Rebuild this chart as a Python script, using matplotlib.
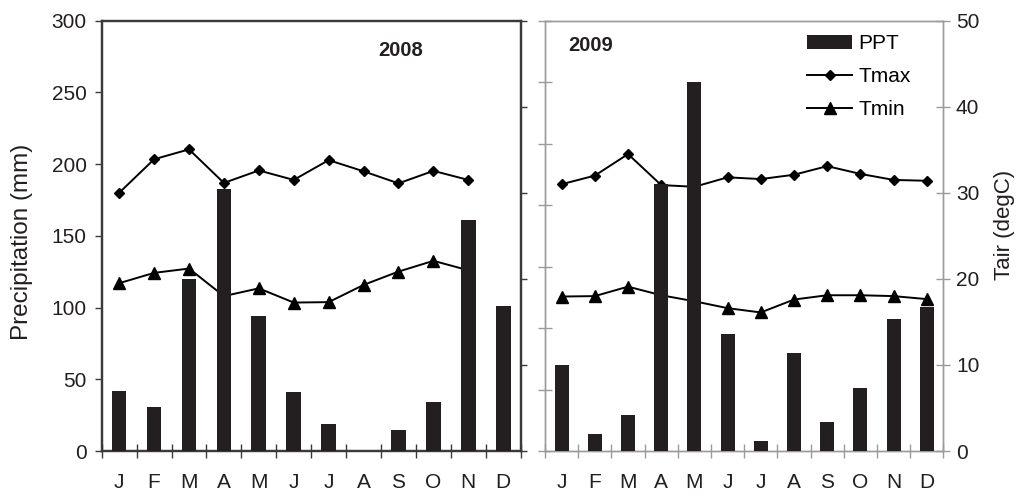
import numpy as np
import matplotlib
matplotlib.use("Agg")
import matplotlib.pyplot as plt

plt.rcParams['font.family'] = ['Liberation Sans', 'DejaVu Sans']

months = ['J', 'F', 'M', 'A', 'M', 'J', 'J', 'A', 'S', 'O', 'N', 'D']

# 2008 monthly precipitation (mm) and air temperature (degC)
ppt_2008 = [42, 31, 120, 183, 94, 41, 19, 0, 14.5, 34.5, 161, 101]
tmax_2008 = [30.0, 33.9, 35.05, 31.15, 32.6, 31.5, 33.8, 32.5, 31.1, 32.55, 31.5, np.nan]
tmin_2008 = [19.5, 20.7, 21.2, 18.0, 18.9, 17.25, 17.3, 19.3, 20.85, 22.1, 21.0, np.nan]

# 2009 monthly precipitation (mm) and air temperature (degC)
ppt_2009 = [70, 14, 29, 217, 300, 95, 8, 80, 23.5, 51.5, 107, 117.5]
tmax_2009 = [31.0, 32.0, 34.5, 30.9, 30.7, 31.8, 31.6, 32.1, 33.1, 32.2, 31.5, 31.4]
tmin_2009 = [17.95, 18.0, 19.1, 18.1, 17.4, 16.6, 16.1, 17.6, 18.1, 18.1, 18.0, 17.65]

TEXT = '#231f20'
BAR = '#231f20'
DARK = '#3a3a3a'
GREY = '#9a9a9a'
FS = 15

x = np.arange(12) + 0.5

fig = plt.figure(figsize=(10.18, 4.94), dpi=100)
ax1 = fig.add_axes([0.0999, 0.0870, 0.4116, 0.8711])
ax2 = fig.add_axes([0.5354, 0.0870, 0.3913, 0.8711])


def month_axis(ax, color, ticklen):
    ax.set_xlim(0, 12)
    ax.set_xticks(np.arange(13))
    ax.set_xticklabels([])
    ax.set_xticks(x, minor=True)
    ax.set_xticklabels(months, minor=True)
    ax.tick_params(axis='x', which='major', direction='inout', length=ticklen,
                   width=1, color=color)
    ax.tick_params(axis='x', which='minor', length=0, pad=16,
                   labelsize=FS, labelcolor=TEXT)


def panel(ax, ppt, tmax, tmin, pmax, spine_color, spine_w):
    tw = ax.twinx()
    tw.plot(x, tmax, color='black', lw=1.4, marker='D', ms=5.6, zorder=2)
    tw.plot(x, tmin, color='black', lw=1.4, marker='^', ms=8.5, zorder=2)
    tw.set_ylim(0, 50)
    ax.bar(x, ppt, width=0.42, color=BAR, zorder=3)
    ax.set_ylim(0, pmax)
    ax.set_zorder(tw.get_zorder() + 1)
    ax.patch.set_visible(False)
    for a in (ax, tw):
        for s in a.spines.values():
            s.set_color(spine_color)
            s.set_linewidth(spine_w)
    return tw


# ---- 2008 panel ----
tw1 = panel(ax1, ppt_2008, tmax_2008, tmin_2008, 300, DARK, 1.6)
month_axis(ax1, DARK, 9.5)
ax1.set_yticks(np.arange(0, 301, 50))
ax1.tick_params(axis='y', direction='out', length=4.8, width=1, color=DARK,
                labelsize=FS, labelcolor=TEXT, pad=6)
tw1.set_yticks(np.arange(0, 51, 10))
tw1.set_yticklabels([])
tw1.tick_params(axis='y', direction='out', length=4.3, width=1, color=DARK)
ax1.text(0.714, 0.930, '2008', transform=ax1.transAxes, ha='center', va='center',
         fontsize=14.5, fontweight='bold', color=TEXT)

# ---- 2009 panel ----
tw2 = panel(ax2, ppt_2009, tmax_2009, tmin_2009, 350, GREY, 1.0)
month_axis(ax2, GREY, 10)
ax2.set_yticks(np.arange(0, 351, 50))
ax2.set_yticklabels([])
ax2.tick_params(axis='y', direction='inout', length=10, width=1, color=GREY)
tw2.set_yticks(np.arange(0, 51, 10))
tw2.tick_params(axis='y', direction='inout', length=10, width=1, color=GREY,
                labelsize=FS, labelcolor=TEXT, pad=4)
ax2.text(0.115, 0.943, '2009', transform=ax2.transAxes, ha='center', va='center',
         fontsize=14.5, fontweight='bold', color=TEXT)

# legend combining bars and temperature lines
handles = [ax2.patches[0], tw2.lines[0], tw2.lines[1]]
ax2.legend(handles, ['PPT', 'Tmax', 'Tmin'], loc='upper left',
           bbox_to_anchor=(0.658, 0.968), frameon=False, fontsize=FS,
           handlelength=2.16, handleheight=0.7, handletextpad=0.29,
           labelspacing=0.66, borderpad=0, borderaxespad=0)

fig.text(0.022, 0.51, 'Precipitation (mm)', rotation=90, ha='center', va='center',
         fontsize=17.5, color=TEXT)
fig.text(0.987, 0.545, 'Tair (degC)', rotation=90, ha='center', va='center',
         fontsize=16, color=TEXT)

fig.savefig('out.png', dpi=100)
